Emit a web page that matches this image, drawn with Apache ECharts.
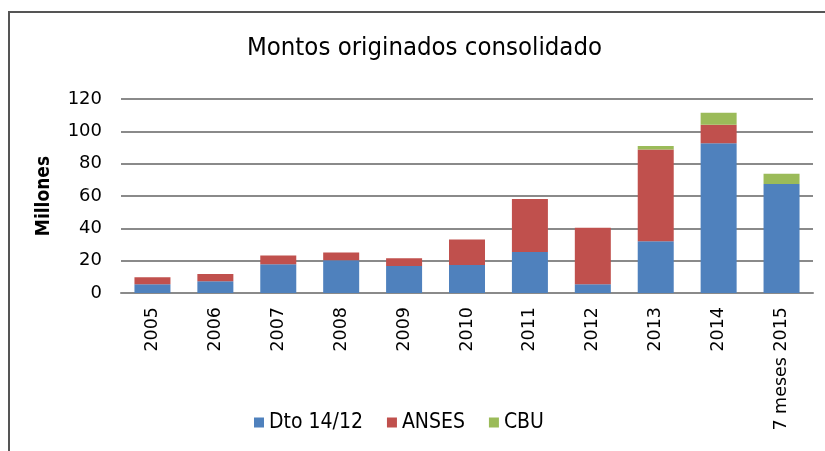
<!DOCTYPE html>
<html>
<head>
<meta charset="utf-8">
<script src="https://cdn.jsdelivr.net/npm/echarts@6/dist/echarts.min.js"></script>
<style>html,body{margin:0;padding:0;background:#fff}#c{width:825px;height:451px}</style>
</head>
<body>
<div id="c"></div>
<script>
const categories = ['2005','2006','2007','2008','2009','2010','2011','2012','2013','2014','7 meses 2015'];
const dto = [5.4, 7.2, 17.8, 20.3, 16.7, 17.3, 25.4, 5.4, 32.0, 92.7, 67.5];
const anses = [4.3, 4.6, 5.4, 4.7, 4.8, 15.8, 32.8, 34.9, 56.8, 11.4, 0];
const cbu = [0, 0, 0, 0, 0, 0, 0, 0, 2.1, 7.4, 6.2];
const seriesNames = ['Dto 14/12', 'ANSES', 'CBU'];
const colors = ['#4F81BD', '#C0504D', '#9BBB59'];

const chart = echarts.init(document.getElementById('c'), null, {renderer: 'canvas'});
const narrow = '"Liberation Sans Narrow", "DejaVu Sans Condensed", sans-serif';
const mk = (name, data, color) => ({
  name, type: 'bar', stack: 'total', data, barWidth: 36,
  itemStyle: {color}, emphasis: {disabled: true}
});
chart.setOption({
  animation: false,
  graphic: [{
    type: 'rect', shape: {x: 9, y: 12, width: 900, height: 600},
    style: {fill: 'none', stroke: '#555', lineWidth: 2}, silent: true
  }],
  title: {
    text: 'Montos originados consolidado', left: 247, top: 35, padding: 0,
    textStyle: {fontFamily: narrow, fontSize: 25.5, fontWeight: 'normal', color: '#000'}
  },
  legend: {
    data: seriesNames, left: 249, top: 407, itemWidth: 10, itemHeight: 10, itemGap: 24,
    icon: 'rect',
    textStyle: {fontFamily: narrow, fontSize: 21, color: '#000'}
  },
  grid: {left: 121, right: 12, top: 99, bottom: 158},
  xAxis: {
    type: 'category', data: categories,
    axisLine: {lineStyle: {color: '#8a8a8a', width: 2}},
    axisTick: {show: false},
    axisLabel: {rotate: 90, margin: 14, fontFamily: 'DejaVu Sans', fontSize: 17.5, color: '#000', interval: 0}
  },
  yAxis: {
    type: 'value', min: 0, max: 120, interval: 20,
    name: 'Millones', nameLocation: 'middle', nameGap: 67, nameRotate: 90,
    nameTextStyle: {fontFamily: narrow, fontWeight: 'bold', fontSize: 19, color: '#000'},
    axisLine: {show: false}, axisTick: {show: false},
    axisLabel: {margin: 19, fontFamily: 'DejaVu Sans', fontSize: 18, color: '#000'},
    splitLine: {lineStyle: {color: '#8a8a8a', width: 2}}
  },
  series: [mk(seriesNames[0], dto, colors[0]), mk(seriesNames[1], anses, colors[1]), mk(seriesNames[2], cbu, colors[2])]
});
</script>
</body>
</html>
